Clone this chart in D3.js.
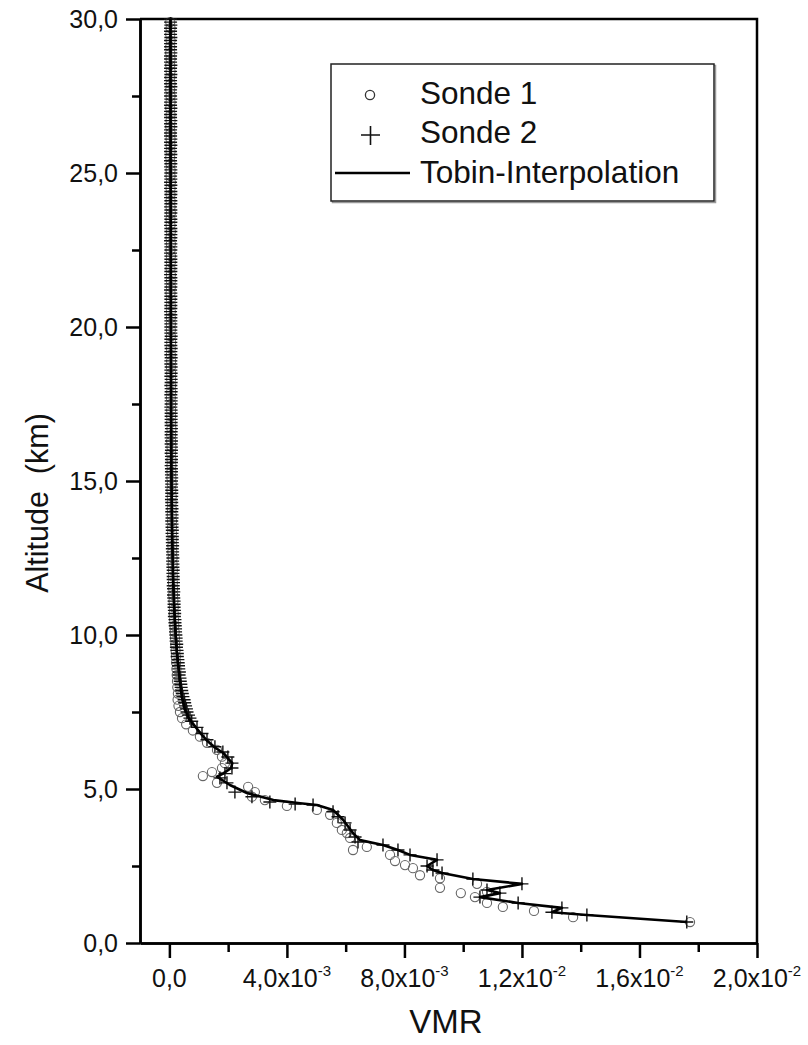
<!DOCTYPE html>
<html><head><meta charset="utf-8">
<script src="https://cdn.jsdelivr.net/npm/d3@7"></script>
<style>
body{margin:0;background:#fff;}
text{font-family:"Liberation Sans",Arial,Helvetica,sans-serif;fill:#111;}
</style></head><body>
<svg id="chart" width="808" height="1045"></svg>
<script>
// ---------- DATA ----------
// Axis ticks
const xMajorTicks = [0, 0.004, 0.008, 0.012, 0.016, 0.020];
const xMinorTicks = [0.002, 0.006, 0.010, 0.014, 0.018];
const xTickMantissa = ["0,0", "4,0", "8,0", "1,2", "1,6", "2,0"];
const xTickExponent = ["", "-3", "-3", "-2", "-2", "-2"];
const yMajorTicks = [0, 5, 10, 15, 20, 25, 30];
const yMinorTicks = [2.5, 7.5, 12.5, 17.5, 22.5, 27.5];
const yTickLabels = ["0,0", "5,0", "10,0", "15,0", "20,0", "25,0", "30,0"];
const seriesNames = ["Sonde 1", "Sonde 2", "Tobin-Interpolation"];

// Sonde 2 (plus markers): altitude (km) and VMR in units of 1e-3
const sonde2Alt = [
30,29.9,29.8,29.7,29.6,29.5,29.4,29.3,29.2,29.1,
29,28.9,28.8,28.7,28.6,28.5,28.4,28.3,28.2,28.1,
28,27.9,27.8,27.7,27.6,27.5,27.4,27.3,27.2,27.1,
27,26.9,26.8,26.7,26.6,26.5,26.4,26.3,26.2,26.1,
26,25.9,25.8,25.7,25.6,25.5,25.4,25.3,25.2,25.1,
25,24.9,24.8,24.7,24.6,24.5,24.4,24.3,24.2,24.1,
24,23.9,23.8,23.7,23.6,23.5,23.4,23.3,23.2,23.1,
23,22.9,22.8,22.7,22.6,22.5,22.4,22.3,22.2,22.1,
22,21.9,21.8,21.7,21.6,21.5,21.4,21.3,21.2,21.1,
21,20.9,20.8,20.7,20.6,20.5,20.4,20.3,20.2,20.1,
20,19.9,19.8,19.7,19.6,19.5,19.4,19.3,19.2,19.1,
19,18.9,18.8,18.7,18.6,18.5,18.4,18.3,18.2,18.1,
18,17.9,17.8,17.7,17.6,17.5,17.4,17.3,17.2,17.1,
17,16.9,16.8,16.7,16.6,16.5,16.4,16.3,16.2,16.1,
16,15.9,15.8,15.7,15.6,15.5,15.4,15.3,15.2,15.1,
15,14.9,14.8,14.7,14.6,14.5,14.4,14.3,14.2,14.1,
14,13.9,13.8,13.7,13.6,13.5,13.4,13.3,13.2,13.1,
13,12.9,12.8,12.7,12.6,12.5,12.4,12.3,12.2,12.1,
12,11.9,11.8,11.7,11.6,11.5,11.4,11.3,11.2,11.1,
11,10.9,10.8,10.7,10.6,10.5,10.4,10.3,10.2,10.1,
10,9.9,9.8,9.7,9.6,9.5,9.4,9.3,9.2,9.1,
9,8.9,8.8,8.7,8.6,8.5,8.4,8.3,8.2,8.1,
8,
7.9,7.8,7.7,7.6,7.5,7.4,7.3,7.2,7.0,6.8,6.6,6.37,6.2,6.04,
5.84,5.68,5.5,5.36,5.2,4.9,4.75,4.58,4.51,4.48,4.26,4.1,
3.9,3.67,3.44,3.28,3.18,3.02,2.86,2.7,2.5,2.37,2.27,2.08,
1.92,1.72,1.62,1.49,1.3,1.14,1.0,0.91,0.68];
const sonde2VmrE3 = [
0.04,0.04,0.05,0.04,0.04,0.04,0.05,0.04,0.04,0.04,
0.04,0.05,0.04,0.04,0.04,0.05,0.04,0.04,0.05,0.04,
0.04,0.04,0.05,0.04,0.04,0.04,0.05,0.04,0.04,0.05,
0.04,0.04,0.04,0.05,0.04,0.05,0.04,0.04,0.04,0.05,
0.04,0.05,0.04,0.04,0.05,0.04,0.04,0.05,0.04,0.05,
0.05,0.04,0.05,0.04,0.05,0.04,0.05,0.05,0.04,0.05,
0.05,0.04,0.05,0.05,0.04,0.05,0.05,0.04,0.05,0.05,
0.05,0.05,0.04,0.05,0.05,0.05,0.04,0.05,0.05,0.05,
0.05,0.05,0.05,0.04,0.05,0.05,0.05,0.05,0.04,0.05,
0.05,0.05,0.05,0.05,0.05,0.04,0.05,0.05,0.05,0.05,
0.05,0.05,0.05,0.06,0.05,0.05,0.05,0.06,0.05,0.05,
0.06,0.05,0.05,0.06,0.05,0.06,0.05,0.06,0.06,0.05,
0.06,0.06,0.05,0.06,0.06,0.06,0.05,0.06,0.06,0.06,
0.06,0.06,0.06,0.07,0.06,0.06,0.06,0.07,0.06,0.07,
0.07,0.06,0.07,0.07,0.07,0.06,0.07,0.07,0.07,0.08,
0.07,0.08,0.07,0.08,0.08,0.08,0.07,0.08,0.08,0.09,
0.08,0.09,0.09,0.08,0.09,0.09,0.10,0.09,0.10,0.10,
0.10,0.11,0.10,0.11,0.11,0.12,0.11,0.12,0.12,0.13,
0.12,0.13,0.13,0.14,0.13,0.14,0.15,0.14,0.15,0.16,
0.16,0.16,0.17,0.18,0.17,0.19,0.19,0.20,0.21,0.21,
0.22,0.23,0.23,0.25,0.24,0.26,0.27,0.27,0.29,0.30,
0.31,0.32,0.34,0.33,0.36,0.37,0.39,0.40,0.42,0.44,
0.46,
0.50,0.52,0.55,0.58,0.60,0.65,0.70,0.76,0.94,1.11,1.28,1.55,1.82,1.99,
2.13,2.13,1.89,1.72,1.96,2.23,2.81,3.42,4.28,4.89,5.57,5.74,
5.98,6.15,6.32,6.42,7.27,7.78,8.19,9.11,8.77,8.97,9.28,10.33,
12.0,10.81,11.25,10.57,11.87,13.36,13.02,14.21,17.61];

// Sonde 1 (circle markers): altitude (km) and VMR in units of 1e-3
const sonde1Alt = [
29.9,29.7,29.5,29.3,29.1,28.9,28.7,28.5,28.3,28.1,
27.9,27.7,27.5,27.3,27.1,26.9,26.7,26.5,26.3,26.1,
25.9,25.7,25.5,25.3,25.1,24.9,24.7,24.5,24.3,24.1,
23.9,23.7,23.5,23.3,23.1,22.9,22.7,22.5,22.3,22.1,
21.9,21.7,21.5,21.3,21.1,20.9,20.7,20.5,20.3,20.1,
19.9,19.7,19.5,19.3,19.1,18.9,18.7,18.5,18.3,18.1,
17.9,17.7,17.5,17.3,17.1,16.9,16.7,16.5,16.3,16.1,
15.9,15.7,15.5,15.3,15.1,14.9,14.7,14.5,14.3,14.1,
13.9,13.7,13.5,13.3,13.1,12.9,12.7,12.5,12.3,12.1,
11.9,11.7,11.5,11.3,11.1,10.9,10.7,10.5,10.3,10.1,
9.9,9.7,9.5,9.3,9.1,8.9,8.7,8.5,8.3,8.1,
7.9,7.7,7.5,7.3,7.1,6.9,6.7,6.5,6.27,6.05,
5.84,5.68,5.55,5.42,5.2,5.07,4.9,4.75,4.64,4.45,4.32,4.16,
3.9,3.67,3.57,3.41,3.12,3.02,2.86,2.66,2.53,2.43,2.2,2.1,
1.92,1.79,1.66,1.62,1.49,1.3,1.17,1.04,0.84,0.68];
const sonde1VmrE3 = [
0.03,0.04,0.03,0.04,0.03,0.03,0.04,0.03,0.04,0.03,
0.04,0.03,0.04,0.04,0.03,0.04,0.04,0.03,0.04,0.04,
0.04,0.04,0.03,0.04,0.04,0.04,0.05,0.04,0.04,0.04,
0.04,0.05,0.04,0.04,0.05,0.04,0.05,0.04,0.05,0.05,
0.04,0.05,0.05,0.05,0.04,0.05,0.05,0.05,0.05,0.05,
0.05,0.05,0.06,0.05,0.05,0.06,0.05,0.06,0.06,0.06,
0.06,0.05,0.06,0.06,0.06,0.06,0.07,0.06,0.06,0.07,
0.06,0.07,0.07,0.07,0.07,0.08,0.07,0.08,0.08,0.08,
0.08,0.09,0.09,0.09,0.10,0.10,0.10,0.11,0.11,0.12,
0.12,0.12,0.13,0.13,0.14,0.15,0.15,0.16,0.17,0.18,
0.19,0.20,0.21,0.22,0.23,0.24,0.25,0.26,0.27,0.29,
0.28,0.31,0.36,0.43,0.57,0.80,1.04,1.28,1.62,1.79,
1.89,1.79,1.45,1.14,1.62,2.68,2.91,2.81,3.25,4.00,5.02,5.47,
5.70,5.87,6.04,6.15,6.72,6.25,7.51,7.68,8.02,8.29,8.53,9.21,
10.47,9.21,10.81,9.92,10.40,10.81,11.35,12.41,13.74,17.72];

// Tobin interpolation (line): altitude (km) and VMR in units of 1e-3
const tobinAlt = [30,25,20,17,15,14,13,12,11,10,9.5,9,8.5,8,7.6,7.3,7.0,6.8,6.6,6.37,
6.17,5.84,5.68,5.5,5.4,5.13,4.87,4.64,4.54,4.48,4.32,4.0,3.57,3.34,3.18,3.02,2.86,2.7,2.5,2.37,
2.27,2.08,1.92,1.72,1.62,1.49,1.3,1.14,1.0,0.91,0.68];
const tobinVmrE3 = [0.035,0.04,0.05,0.06,0.07,0.08,0.10,0.12,0.16,0.21,0.25,0.30,0.36,0.42,0.52,0.66,0.90,1.07,1.25,1.52,
1.83,2.14,2.10,1.83,1.62,2.06,2.64,3.54,4.45,5.02,5.57,5.91,6.25,6.49,7.27,7.78,8.19,9.11,8.77,8.97,
9.28,10.33,12.0,10.81,11.25,10.57,11.87,13.36,13.02,14.21,17.61];

// ---------- CHART ----------
const svg = d3.select("#chart");
const plot = {left: 140, right: 757, top: 19, bottom: 943};
const x = d3.scaleLinear().domain([-0.001, 0.02]).range([plot.left, plot.right]);
const y = d3.scaleLinear().domain([0, 30]).range([plot.bottom, plot.top]);
const E3 = 1e-3;

const toPts = (alts, vals) => alts.map((a, i) => ({alt: a, v: vals[i] * E3}));
const s1 = toPts(sonde1Alt, sonde1VmrE3);
const s2 = toPts(sonde2Alt, sonde2VmrE3);
const tb = toPts(tobinAlt, tobinVmrE3);

// axes (outward ticks)
function styleAxis(g) {
  g.selectAll("path,line").attr("stroke", "#000").attr("stroke-width", 2.5);
  g.selectAll("text").remove();
}
svg.append("g").attr("transform", `translate(0,${plot.bottom})`)
  .call(d3.axisBottom(x).tickValues(xMajorTicks).tickSize(15).tickSizeOuter(0)).call(styleAxis);
svg.append("g").attr("transform", `translate(0,${plot.bottom})`)
  .call(d3.axisBottom(x).tickValues(xMinorTicks).tickSize(9).tickSizeOuter(0)).call(styleAxis);
svg.append("g").attr("transform", `translate(${plot.left},0)`)
  .call(d3.axisLeft(y).tickValues(yMajorTicks).tickSize(14).tickSizeOuter(0)).call(styleAxis);
svg.append("g").attr("transform", `translate(${plot.left},0)`)
  .call(d3.axisLeft(y).tickValues(yMinorTicks).tickSize(8).tickSizeOuter(0)).call(styleAxis);

// top/right frame
svg.append("path")
  .attr("d", `M${plot.left},${plot.top}H${plot.right}V${plot.bottom}`)
  .attr("fill", "none").attr("stroke", "#000").attr("stroke-width", 2.5);

// tick labels
const xLab = svg.append("g");
xMajorTicks.forEach((t, i) => {
  const tx = xLab.append("text").attr("x", x(t)).attr("y", 987)
    .attr("text-anchor", "middle").attr("font-size", 25);
  tx.append("tspan").text(xTickMantissa[i] + (xTickExponent[i] ? "x10" : ""));
  if (xTickExponent[i]) tx.append("tspan").attr("dy", -11).attr("font-size", 15).text(xTickExponent[i]);
});
const yLab = svg.append("g");
yMajorTicks.forEach((t, i) => {
  yLab.append("text").attr("x", 118).attr("y", y(t)).attr("dy", "0.36em")
    .attr("text-anchor", "end").attr("font-size", 25).text(yTickLabels[i]);
});

// axis titles
svg.append("text").attr("x", 446).attr("y", 1033).attr("text-anchor", "middle")
  .attr("font-size", 33).text("VMR");
svg.append("text").attr("transform", "translate(48,503) rotate(-90)")
  .attr("text-anchor", "middle").attr("font-size", 30.5)
  .style("white-space", "pre").text("Altitude  (km)");

// clip
svg.append("clipPath").attr("id", "clip").append("rect")
  .attr("x", plot.left).attr("y", plot.top - 2).attr("width", plot.right - plot.left).attr("height", plot.bottom - plot.top + 2);
const data = svg.append("g").attr("clip-path", "url(#clip)");

// Sonde 1 circles
data.append("g").selectAll("circle").data(s1).join("circle")
  .attr("cx", d => x(d.v)).attr("cy", d => y(d.alt)).attr("r", 4.6)
  .attr("fill", "none").attr("stroke", "#666").attr("stroke-width", 1.1);

// Sonde 2 plus markers
const ps = 6.5;
data.append("g").selectAll("path").data(s2).join("path")
  .attr("d", d => `M${x(d.v) - ps},${y(d.alt)}h${2 * ps}M${x(d.v)},${y(d.alt) - ps}v${2 * ps}`)
  .attr("stroke", "#111").attr("stroke-width", 1.4).attr("fill", "none");

// Tobin line
data.append("path").datum(tb)
  .attr("d", d3.line().x(d => x(d.v)).y(d => y(d.alt)))
  .attr("fill", "none").attr("stroke", "#000").attr("stroke-width", 2.6).attr("stroke-linejoin", "round");

// legend
const lg = svg.append("g");
lg.append("rect").attr("x", 332.5).attr("y", 65.5).attr("width", 383).attr("height", 137)
  .attr("fill", "none").attr("stroke", "#999").attr("stroke-width", 1.5);
lg.append("rect").attr("x", 331).attr("y", 64).attr("width", 383).attr("height", 137)
  .attr("fill", "#fff").attr("stroke", "#222").attr("stroke-width", 1.5);
lg.append("circle").attr("cx", 370).attr("cy", 95).attr("r", 4.6)
  .attr("fill", "none").attr("stroke", "#333").attr("stroke-width", 1.3);
lg.append("path").attr("d", "M361,135h19M370.5,126v19").attr("stroke", "#111").attr("stroke-width", 1.6);
lg.append("path").attr("d", "M335,173H410").attr("stroke", "#000").attr("stroke-width", 2.6);
const lgY = [104, 143, 183];
seriesNames.forEach((n, i) => {
  lg.append("text").attr("x", 420).attr("y", lgY[i]).attr("font-size", 31.5).text(n);
});
</script>
</body></html>
